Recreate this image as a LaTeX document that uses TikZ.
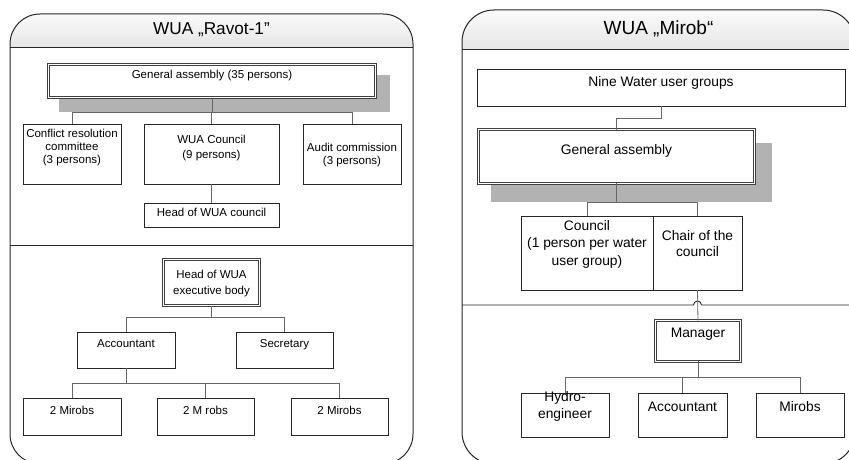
\documentclass[tikz,border=0pt]{standalone}
\usepackage{fontspec}
\setmainfont{Liberation Sans}
\usetikzlibrary{calc}
\newcommand\mlines[3]{{\fontsize{#1}{#2}\selectfont\begin{tabular}[t]{@{}c@{}}#3\end{tabular}}}
\newcommand\bx[6]{\node[#1, minimum width={(#5-#3)*1pt}, minimum height={(#6-#4)*1pt}] (#2) at ({(#3+#5)/2},{(#4+#6)/2}) {};}
\begin{document}
\begin{tikzpicture}[x=1pt,y=-1pt,
  box/.style={draw=black!85, line width=0.8pt, fill=white, inner sep=0pt, outer sep=0pt},
  dbox/.style={draw=black!75, double=white, double distance=1.2pt, line width=1.1pt, fill=white, inner sep=0pt, outer sep=0pt},
  conn/.style={draw=black!60, line width=0.8pt},
  shadowfill/.style={fill=black!30},
  panel/.style={draw=black!85, line width=1pt, rounded corners=30pt},
  sep/.style={draw=black!85, line width=0.9pt},
  ltxt/.style={font=\fontsize{11.5}{13.5}\selectfont, anchor=base, inner sep=0pt},
  rtxt/.style={font=\fontsize{13.8}{16.5}\selectfont, anchor=base, inner sep=0pt},
]
\useasboundingbox (0,0) rectangle (849,460);
\clip (0,0) rectangle (849,460);

% ---------- left panel ----------
\begin{scope}
  \clip[rounded corners=30pt] (10,14) rectangle (413,464);
  \shade[top color=black!2, bottom color=black!10] (10,14) rectangle (413,47);
\end{scope}
\draw[panel] (10,14) rectangle (413,464);
\draw[sep] (10,47) -- (413,47);
\draw[sep] (10,245) -- (413,245);
\node[font=\fontsize{17.2}{20}\selectfont, anchor=base, inner sep=0pt] (Ltitle) at (211.5,35) {WUA „Ravot-1"};

\fill[shadowfill] (59,75) rectangle (390,112);
\bx{dbox}{LGA}{48.5}{64.5}{375.5}{97.5}
\bx{box}{LCRC}{23}{124}{121}{184}
\bx{box}{LWC}{144}{124}{279}{184}
\bx{box}{LAC}{303}{124}{401}{184}
\bx{box}{LHC}{144}{203}{279}{227}
\bx{dbox}{LHE}{163.5}{259.5}{259.5}{305.5}
\bx{box}{LACC}{77}{332}{175}{368}
\bx{box}{LSEC}{236}{332}{333}{368}
\bx{box}{LM1}{23}{398}{121}{435}
\bx{box}{LM2}{157}{398}{254}{435}
\bx{box}{LM3}{291}{398}{388}{435}

\node[ltxt] (LGAt) at (212,79) {General assembly (35 persons)};
\node[ltxt] (LCRCt) at (72,137.3) {\mlines{11.5}{13.3}{Conflict resolution\\committee\\(3 persons)}};
\node[ltxt] (LWCt) at (211.5,143.7) {\mlines{11.5}{15}{WUA Council\\(9 persons)}};
\node[ltxt] (LACt) at (352,151.7) {\mlines{11.5}{12.8}{Audit commission\\(3 persons)}};
\node[ltxt] (LHCt) at (211.5,216) {Head of WUA council};
\node[ltxt] (LHEt) at (211.5,278.3) {\mlines{11.5}{15.7}{Head of WUA\\executive body}};
\node[ltxt] (LACCt) at (126,347.3) {Accountant};
\node[ltxt] (LSECt) at (284.5,347.3) {Secretary};
\node[ltxt] (LM1t) at (72,414.3) {2 Mirobs};
\node[ltxt] (LM2t) at (205.5,414.3) {2 M robs};
\node[ltxt] (LM3t) at (339.5,414.3) {2 Mirobs};

\draw[conn] (LGA.south) -- (LGA.south |- 0,112);
\draw[conn] (LCRC.north) -- (LCRC.north |- 0,112) -- (LAC.north |- 0,112) -- (LAC.north);
\draw[conn] (LWC.north) -- (LWC.north |- 0,112);
\draw[conn] (LWC.south) -- (LHC.north);
\draw[conn] (LHE.south) -- (LHE.south |- 0,317);
\draw[conn] (LACC.north) -- (LACC.north |- 0,317) -- (LSEC.north |- 0,317) -- (LSEC.north);
\draw[conn] (LACC.south) -- (LACC.south |- 0,383);
\draw[conn] (LM1.north) -- (LM1.north |- 0,383) -- (LM3.north |- 0,383) -- (LM3.north);
\draw[conn] (LM2.north) -- (LM2.north |- 0,383);

% ---------- right panel ----------
\begin{scope}
  \clip[rounded corners=32pt] (462,10) rectangle (855,464);
  \shade[top color=black!2, bottom color=black!10] (462,10) rectangle (855,49);
\end{scope}
\draw[panel, rounded corners=32pt] (462,10) rectangle (855,464);
\draw[sep] (462,49) -- (855,49);
\draw[sep] (462,305) -- (693.5,305) arc (180:360:4) -- (855,305);
\node[font=\fontsize{19}{22}\selectfont, anchor=base, inner sep=0pt] (Rtitle) at (658.5,35) {WUA „Mirob“};

\bx{box}{RNW}{477}{69}{845}{106}
\fill[shadowfill] (491,143) rectangle (772,202);
\bx{dbox}{RGA}{478.6}{129.6}{754.4}{183.4}
\bx{box}{RCO}{521}{216}{653}{290}
\bx{box}{RCH}{653}{216}{742}{290}
\bx{dbox}{RMA}{655.6}{320.6}{740.4}{361.4}
\bx{box}{RHY}{521}{393}{609}{437}
\bx{box}{RACC}{638}{393}{727}{437}
\bx{box}{RMI}{756}{393}{844}{437}

\node[rtxt] (RNWt) at (661,86) {Nine Water user groups};
\node[rtxt] (RGAt) at (616.5,154) {General assembly};
\node[rtxt] (RCOt) at (587,230.7) {\mlines{13.8}{17.2}{Council\\(1 person per water\\user group)}};
\node[rtxt] (RCHt) at (697.5,240.7) {\mlines{13.8}{16}{Chair of the\\council}};
\node[rtxt] (RMAt) at (698,337.3) {Manager};
\node[rtxt] (RHYt) at (565,401) {\mlines{13.8}{17.3}{Hydro-\\engineer}};
\node[rtxt] (RACCt) at (682.5,411) {Accountant};
\node[rtxt] (RMIt) at (800,411) {Mirobs};

\draw[conn] (RNW.south) -- (RNW.south |- 0,118) -| (RGA.north);
\draw[conn] (RGA.south) -- (RGA.south |- 0,202);
\draw[conn] (RCO.north) -- (RCO.north |- 0,202) -- (RCH.north |- 0,202) -- (RCH.north);
\draw[conn] (RCH.south) -- (RMA.north);
\draw[conn] (RMA.south) -- (RMA.south |- 0,377);
\draw[conn] (RHY.north) -- (RHY.north |- 0,377) -- (RMI.north |- 0,377) -- (RMI.north);
\draw[conn] (RACC.north) -- (RACC.north |- 0,377);
\end{tikzpicture}
\end{document}
